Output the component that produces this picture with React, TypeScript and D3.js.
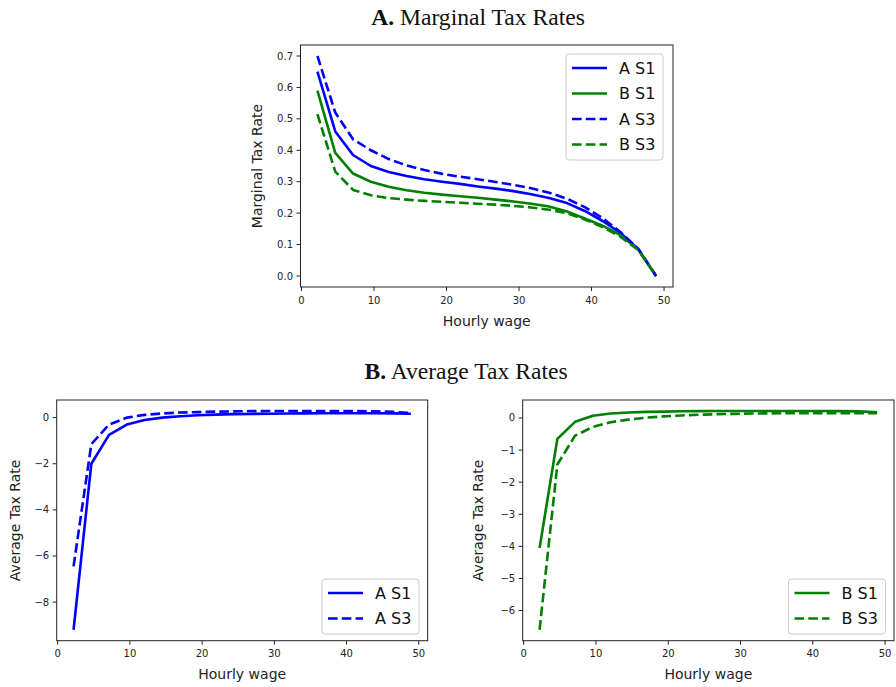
import React from "react"
import * as d3 from "d3"

// hourly wage grid
const wage = [2.2, 4.66, 7.11, 9.57, 12.03, 14.49, 16.95, 19.4, 21.86, 24.32, 26.78, 29.24, 31.69, 34.15, 36.61, 39.07, 41.53, 43.98, 46.44, 48.9]

// marginal tax rates
const mtrAS1 = [0.65, 0.46, 0.385, 0.35, 0.331, 0.318, 0.308, 0.3, 0.293, 0.285, 0.278, 0.27, 0.26, 0.248, 0.232, 0.207, 0.175, 0.137, 0.085, 0.0]
const mtrBS1 = [0.59, 0.392, 0.326, 0.3, 0.284, 0.273, 0.265, 0.259, 0.254, 0.249, 0.243, 0.237, 0.23, 0.221, 0.205, 0.183, 0.16, 0.13, 0.085, 0.0]
const mtrAS3 = [0.7, 0.52, 0.435, 0.4, 0.372, 0.352, 0.337, 0.325, 0.316, 0.308, 0.299, 0.29, 0.279, 0.265, 0.246, 0.219, 0.184, 0.14, 0.087, 0.0]
const mtrBS3 = [0.515, 0.332, 0.274, 0.257, 0.248, 0.243, 0.239, 0.236, 0.233, 0.23, 0.227, 0.223, 0.218, 0.211, 0.2, 0.18, 0.156, 0.125, 0.083, 0.0]

// average tax rates
const atrAS1 = [-9.2, -2.0, -0.75, -0.3, -0.1, 0.0, 0.06, 0.1, 0.13, 0.15, 0.16, 0.17, 0.18, 0.185, 0.19, 0.19, 0.19, 0.19, 0.185, 0.17]
const atrAS3 = [-6.45, -1.15, -0.3, 0.0, 0.12, 0.18, 0.22, 0.24, 0.26, 0.27, 0.28, 0.285, 0.29, 0.29, 0.29, 0.285, 0.28, 0.27, 0.25, 0.2]
const atrBS1 = [-4.05, -0.65, -0.12, 0.07, 0.14, 0.17, 0.19, 0.2, 0.21, 0.215, 0.22, 0.22, 0.22, 0.22, 0.22, 0.22, 0.22, 0.215, 0.205, 0.18]
const atrBS3 = [-6.6, -1.45, -0.55, -0.28, -0.13, -0.05, 0.01, 0.05, 0.08, 0.1, 0.12, 0.13, 0.14, 0.145, 0.15, 0.15, 0.15, 0.15, 0.15, 0.15]

const xTicks = [0, 10, 20, 30, 40, 50]
const mtrTicks = [0, 0.1, 0.2, 0.3, 0.4, 0.5, 0.6, 0.7]
const atrATicks = [0, -2, -4, -6, -8]
const atrBTicks = [0, -1, -2, -3, -4, -5, -6]

const BLUE = "#0000ff"
const GREEN = "#008000"
const LW = 2.6
const DASH = `${3.7 * LW},${1.6 * LW}`
const SANS = "DejaVu Sans, sans-serif"

// matplotlib-style 5% margins
function padded(vals) {
  const [lo, hi] = d3.extent(vals)
  const m = (hi - lo) * 0.05
  return [lo - m, hi + m]
}

function Panel({ box, series, yTicks, yFmt, yLabel, legend }) {
  const { left, right, top, bottom } = box
  const x = d3.scaleLinear().domain(padded(wage)).range([left, right])
  const y = d3
    .scaleLinear()
    .domain(padded(series.flatMap((s) => s.values)))
    .range([bottom, top])
  const line = d3
    .line()
    .x((d) => x(d[0]))
    .y((d) => y(d[1]))

  const rowH = 25.5
  const lg = legend
  const lgH = series.length * rowH + 4
  return (
    <g>
      {series.map((s) => (
        <path
          key={s.name}
          d={line(wage.map((w, i) => [w, s.values[i]]))}
          fill="none"
          stroke={s.color}
          strokeWidth={LW}
          strokeDasharray={s.dashed ? DASH : null}
          strokeLinejoin="round"
        />
      ))}
      <rect x={left} y={top} width={right - left} height={bottom - top} fill="none" stroke="#222" strokeWidth={1} />
      {xTicks.map((t) => (
        <g key={t} transform={`translate(${x(t)},${bottom})`}>
          <line y2={4} stroke="#222" />
          <text y={16.5} textAnchor="middle" fontSize={10} fontFamily={SANS} fill="#222">
            {t}
          </text>
        </g>
      ))}
      {yTicks.map((t) => (
        <g key={t} transform={`translate(${left},${y(t)})`}>
          <line x2={-4} stroke="#222" />
          <text x={-7.5} dy="0.35em" textAnchor="end" fontSize={10} fontFamily={SANS} fill="#222">
            {yFmt(t)}
          </text>
        </g>
      ))}
      <text x={(left + right) / 2} y={bottom + 38.5} textAnchor="middle" fontSize={14} fontFamily={SANS} fill="#222">
        Hourly wage
      </text>
      <text
        transform={`translate(${yLabel.x},${(top + bottom) / 2}) rotate(-90)`}
        textAnchor="middle"
        fontSize={14}
        fontFamily={SANS}
        fill="#222"
      >
        {yLabel.text}
      </text>
      <g transform={`translate(${lg.x},${lg.y})`}>
        <rect width={97} height={lgH} rx={3} fill="#fff" fillOpacity={0.8} stroke="#cccccc" strokeWidth={1} />
        {series.map((s, i) => (
          <g key={s.name} transform={`translate(0,${14 + i * rowH})`}>
            <line x1={6} x2={41} stroke={s.color} strokeWidth={LW} strokeDasharray={s.dashed ? DASH : null} />
            <text x={53} dy="0.36em" fontSize={16} fontFamily={SANS} fill="#111">
              {s.name}
            </text>
          </g>
        ))}
      </g>
    </g>
  )
}

export default function App() {
  const fmt1 = d3.format(".1f")
  const fmtInt = (t) => (t < 0 ? "\u2212" + Math.abs(t) : String(t))
  return (
    <svg width={896} height={687} style={{ position: "absolute", left: 0, top: 0, background: "#fff" }}>
      <text x={478} y={25} textAnchor="middle" fontSize={23.6} fontFamily="Liberation Serif, serif" fill="#111">
        <tspan fontWeight="bold">A.</tspan> Marginal Tax Rates
      </text>
      <text x={466} y={379} textAnchor="middle" fontSize={23.6} fontFamily="Liberation Serif, serif" fill="#111">
        <tspan fontWeight="bold">B.</tspan> Average Tax Rates
      </text>
      <Panel
        box={{ left: 300.5, right: 673, top: 45, bottom: 287 }}
        series={[
          { name: "A S1", values: mtrAS1, color: BLUE, dashed: false },
          { name: "B S1", values: mtrBS1, color: GREEN, dashed: false },
          { name: "A S3", values: mtrAS3, color: BLUE, dashed: true },
          { name: "B S3", values: mtrBS3, color: GREEN, dashed: true },
        ]}
        yTicks={mtrTicks}
        yFmt={fmt1}
        yLabel={{ text: "Marginal Tax Rate", x: 262 }}
        legend={{ x: 566, y: 54 }}
      />
      <Panel
        box={{ left: 56.7, right: 427.7, top: 400, bottom: 640.7 }}
        series={[
          { name: "A S1", values: atrAS1, color: BLUE, dashed: false },
          { name: "A S3", values: atrAS3, color: BLUE, dashed: true },
        ]}
        yTicks={atrATicks}
        yFmt={fmtInt}
        yLabel={{ text: "Average Tax Rate", x: 19.5 }}
        legend={{ x: 322, y: 579 }}
      />
      <Panel
        box={{ left: 522.7, right: 894, top: 400, bottom: 640.7 }}
        series={[
          { name: "B S1", values: atrBS1, color: GREEN, dashed: false },
          { name: "B S3", values: atrBS3, color: GREEN, dashed: true },
        ]}
        yTicks={atrBTicks}
        yFmt={fmtInt}
        yLabel={{ text: "Average Tax Rate", x: 482.5 }}
        legend={{ x: 788.5, y: 579 }}
      />
    </svg>
  )
}
